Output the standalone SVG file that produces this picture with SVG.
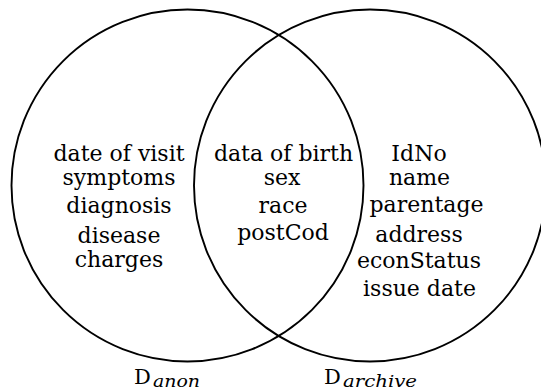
<svg xmlns="http://www.w3.org/2000/svg" width="541" height="391" viewBox="0 0 541 391">
<style>
.c{fill:none;stroke:#000;stroke-width:1.9}
.t{font-family:"DejaVu Serif","Liberation Serif",serif;font-size:22px;fill:#000;text-anchor:middle}
.l{font-family:"DejaVu Serif","Liberation Serif",serif;font-size:21px;fill:#000}
.s{font-family:"DejaVu Serif","Liberation Serif",serif;font-style:italic;font-size:16px;fill:#000}
</style>
<rect width="541" height="391" fill="#fff"/>
<g id="anon">
<circle class="c" cx="187.5" cy="185.5" r="176"/>
<text class="t" x="119" y="161">date of visit</text>
<text class="t" x="119" y="185">symptoms</text>
<text class="t" x="119" y="213">diagnosis</text>
<text class="t" x="119" y="243">disease</text>
<text class="t" x="119" y="267">charges</text>
<text class="l" x="134" y="384">D<tspan class="s" x="153" y="387" textLength="47" lengthAdjust="spacingAndGlyphs">anon</tspan></text>
</g>
<g id="archive">
<circle class="c" cx="370" cy="185.5" r="176"/>
<text class="t" x="419" y="161">IdNo</text>
<text class="t" x="419.5" y="185">name</text>
<text class="t" x="426.5" y="212">parentage</text>
<text class="t" x="419" y="242">address</text>
<text class="t" x="419" y="268">econStatus</text>
<text class="t" x="419.5" y="296">issue date</text>
<text class="l" x="324" y="384">D<tspan class="s" x="343" y="387" textLength="74" lengthAdjust="spacingAndGlyphs">archive</tspan></text>
</g>
<g id="shared">
<text class="t" x="283.5" y="161">data of birth</text>
<text class="t" x="282" y="185">sex</text>
<text class="t" x="283" y="213">race</text>
<text class="t" x="283" y="240">postCod</text>
</g>
<g id="connectors"></g>
</svg>
